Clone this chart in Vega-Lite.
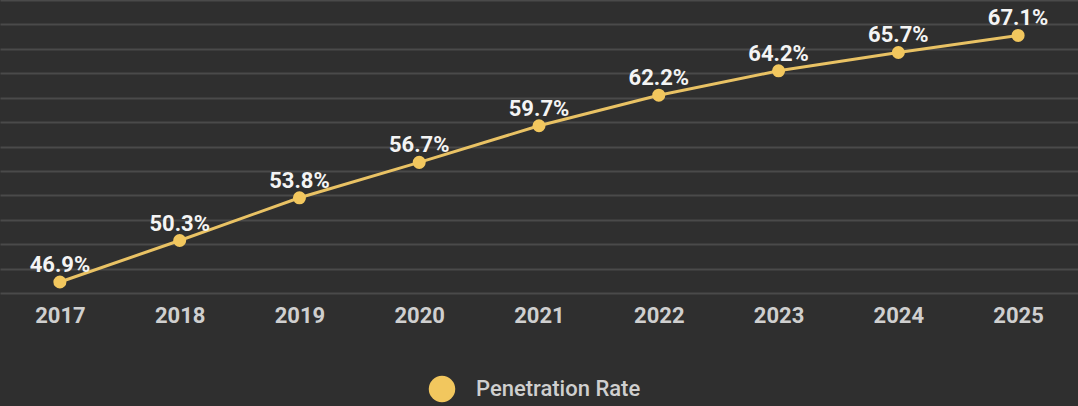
{
  "$schema": "https://vega.github.io/schema/vega-lite/v6.json",
  "width": 1078,
  "height": 293,
  "autosize": "none",
  "padding": {"top": 0, "left": 0, "right": 0, "bottom": 113},
  "background": "#2f2f2f",
  "config": {
    "view": {"stroke": null},
    "font": "Roboto"
  },
  "data": {
    "values": [
      {"year": "2017", "rate": 46.9, "label": "46.9%", "series": "Penetration Rate"},
      {"year": "2018", "rate": 50.3, "label": "50.3%", "series": "Penetration Rate"},
      {"year": "2019", "rate": 53.8, "label": "53.8%", "series": "Penetration Rate"},
      {"year": "2020", "rate": 56.7, "label": "56.7%", "series": "Penetration Rate"},
      {"year": "2021", "rate": 59.7, "label": "59.7%", "series": "Penetration Rate"},
      {"year": "2022", "rate": 62.2, "label": "62.2%", "series": "Penetration Rate"},
      {"year": "2023", "rate": 64.2, "label": "64.2%", "series": "Penetration Rate"},
      {"year": "2024", "rate": 65.7, "label": "65.7%", "series": "Penetration Rate"},
      {"year": "2025", "rate": 67.1, "label": "67.1%", "series": "Penetration Rate"}
    ]
  },
  "encoding": {
    "x": {
      "field": "year", "type": "ordinal",
      "scale": {"type": "point", "padding": 0.5},
      "axis": {
        "title": null, "domain": false, "ticks": false, "grid": false,
        "labelAngle": 0, "labelFont": "Roboto", "labelFontWeight": "bold",
        "labelFontSize": 22, "labelColor": "#cfcfcf", "labelPadding": 12
      }
    },
    "y": {
      "field": "rate", "type": "quantitative",
      "scale": {"domain": [46, 70], "nice": false, "zero": false},
      "axis": {
        "title": null, "domain": false, "ticks": false, "labels": false,
        "grid": true, "gridColor": "#4a4a4a", "gridWidth": 2,
        "values": [46, 48, 50, 52, 54, 56, 58, 60, 62, 64, 66, 68, 70]
      }
    }
  },
  "layer": [
    {
      "mark": {"type": "line", "color": "#e9c264", "strokeWidth": 3}
    },
    {
      "mark": {"type": "point", "filled": true, "opacity": 1, "size": 170},
      "encoding": {
        "color": {
          "field": "series", "type": "nominal",
          "scale": {"range": ["#f2c75e"]},
          "legend": {
            "title": null, "orient": "none", "legendX": 428, "legendY": 375,
            "symbolType": "circle", "symbolSize": 700, "symbolOpacity": 1,
            "labelFont": "Roboto", "labelFontSize": 22, "labelFontWeight": 500,
            "labelColor": "#cfcfcf", "labelOffset": 20, "labelLimit": 400
          }
        }
      }
    },
    {
      "mark": {"type": "text", "dy": -17, "font": "Roboto", "fontWeight": "bold", "fontSize": 22, "color": "#f4f4f4"},
      "encoding": {
        "text": {"field": "label", "type": "nominal"}
      }
    }
  ]
}
